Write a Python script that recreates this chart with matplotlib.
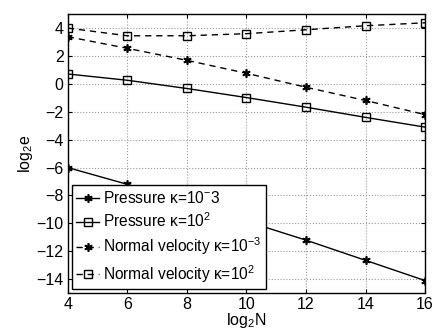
import numpy as np
import matplotlib
matplotlib.use("Agg")
from matplotlib import pyplot as plt

plt.rcParams['font.family'] = ['Liberation Sans', 'DejaVu Sans']
plt.rcParams['mathtext.fontset'] = 'custom'
plt.rcParams['mathtext.rm'] = 'Liberation Sans'
plt.rcParams['mathtext.it'] = 'Liberation Sans'

log2N = [4, 6, 8, 10, 12, 14, 16]
pressure_small = [-6.0, -7.2, -8.5, -9.85, -11.2, -12.65, -14.1]
pressure_large = [0.71, 0.26, -0.33, -0.98, -1.67, -2.4, -3.1]
velocity_small = [3.38, 2.55, 1.69, 0.76, -0.24, -1.19, -2.2]
velocity_large = [4.0, 3.45, 3.45, 3.6, 3.88, 4.17, 4.38]

labels = [r'Pressure κ=10$^{-}$3',
          r'Pressure κ=10$^{2}$',
          r'Normal velocity κ=10$^{-3}$',
          r'Normal velocity κ=10$^{2}$']

star = (6, 2, 0)
fs = 11.5

fig = plt.figure(figsize=(4.32, 3.29), dpi=100)
ax = fig.add_axes([0.157, 0.109, 0.827, 0.848])

ax.plot(log2N, pressure_small, '-', color='k', lw=1.0, marker=star, ms=6, mew=1.2, label=labels[0])
ax.plot(log2N, pressure_large, '-', color='k', lw=1.0, marker='s', ms=6, mfc='none', mew=1.0, label=labels[1])
ax.plot(log2N, velocity_small, '--', color='k', lw=1.0, marker=star, ms=6, mew=1.2, dashes=(4.5, 3.5), label=labels[2])
ax.plot(log2N, velocity_large, '--', color='k', lw=1.0, marker='s', ms=6, mfc='none', mew=1.0, dashes=(4.5, 3.5), label=labels[3])

ax.set_xlim(4, 16)
ax.set_ylim(-15, 5)
ax.set_xticks(range(4, 17, 2))
ax.set_yticks(range(-14, 5, 2))
ax.tick_params(direction='in', labelsize=fs, length=3, top=True, right=True, pad=3)
ax.grid(True, linestyle=':', color='#999999', lw=0.8)
for sp in ax.spines.values():
    sp.set_linewidth(1.0)

ax.set_xlabel(r'log$_2$N', fontsize=fs, labelpad=-1)
ax.set_ylabel(r'log$_2$e', fontsize=fs, labelpad=1)

leg = ax.legend(loc='lower left', fontsize=11.2, fancybox=False, edgecolor='k',
                framealpha=1, handlelength=1.45, handletextpad=0.25,
                borderaxespad=0.25, labelspacing=0.35, borderpad=0.3)
leg.get_frame().set_linewidth(1.0)

plt.savefig("out.png", dpi=100)
